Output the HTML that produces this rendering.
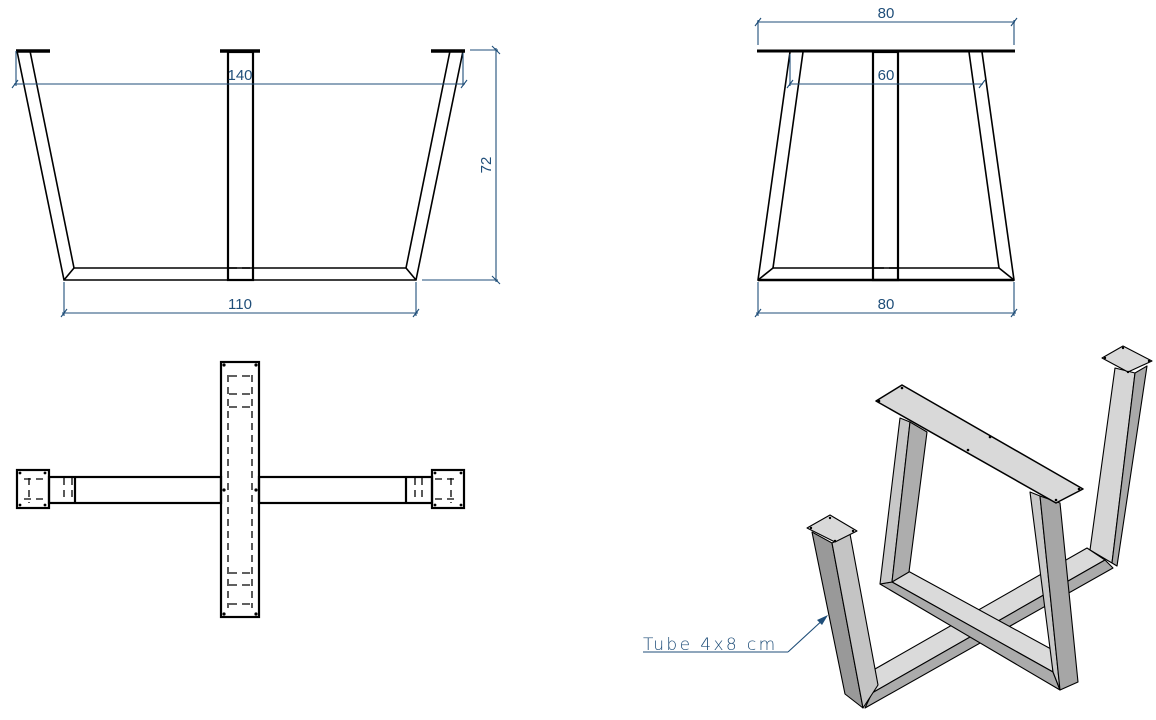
<!DOCTYPE html>
<html><head><meta charset="utf-8"><style>
html,body{margin:0;padding:0;background:#fff;}
svg{display:block;}
.k{stroke:#000;fill:none;stroke-width:2.2;}
.k1{stroke:#000;fill:none;stroke-width:1.6;}
.d{stroke:#1f4e79;fill:none;stroke-width:1.1;}
.t{font-family:"Liberation Sans Narrow","Liberation Sans",sans-serif;font-size:15px;fill:#1f4e79;}
.dash{stroke:#000;fill:none;stroke-width:1.3;stroke-dasharray:7,5;}
.f{stroke:#000;stroke-width:1.1;stroke-linejoin:round;}
</style></head><body>
<svg width="1156" height="720" viewBox="0 0 1156 720" xmlns="http://www.w3.org/2000/svg">
<!-- FRONT VIEW -->
<g>
<line x1="16" y1="51" x2="50" y2="51" stroke="#000" stroke-width="3.5"/>
<line x1="220" y1="51" x2="260" y2="51" stroke="#000" stroke-width="3.5"/>
<line x1="431" y1="51" x2="465" y2="51" stroke="#000" stroke-width="3.5"/>
<polyline class="k1" points="17,51 64,280 416,280 463,51"/>
<polyline class="k1" points="30,51 74,268 406,268 450,51"/>
<line class="k1" x1="64" y1="280" x2="74" y2="268"/>
<line class="k1" x1="416" y1="280" x2="406" y2="268"/>
<rect x="228" y="52" width="25" height="228" fill="#fff" class="k"/>
<line x1="229" y1="268" x2="252" y2="268" stroke="#000" stroke-width="1.4" stroke-dasharray="8,5"/>
<line class="d" x1="14" y1="84" x2="465" y2="84"/>
<line class="d" x1="16" y1="51" x2="16" y2="86"/>
<line class="d" x1="463" y1="53" x2="463" y2="86"/>
<line class="d" x1="12" y1="88" x2="18" y2="80"/><line class="d" x1="461" y1="88" x2="467" y2="80"/>
<text class="t" x="240" y="80" text-anchor="middle">140</text>
<line class="d" x1="470" y1="50" x2="498" y2="50"/>
<line class="d" x1="422" y1="280" x2="498" y2="280"/>
<line class="d" x1="496" y1="48" x2="496" y2="282"/>
<line class="d" x1="492" y1="46" x2="500" y2="54"/><line class="d" x1="492" y1="276" x2="500" y2="284"/>
<text class="t" x="0" y="0" text-anchor="middle" transform="translate(491,165) rotate(-90)">72</text>
<line class="d" x1="64" y1="282" x2="64" y2="316"/>
<line class="d" x1="416" y1="282" x2="416" y2="316"/>
<line class="d" x1="62" y1="313" x2="418" y2="313"/>
<line class="d" x1="61" y1="317" x2="67" y2="309"/><line class="d" x1="413" y1="317" x2="419" y2="309"/>
<text class="t" x="240" y="309" text-anchor="middle">110</text>
</g>
<!-- SIDE VIEW -->
<g>
<line x1="757" y1="51" x2="1015" y2="51" stroke="#000" stroke-width="3"/>
<polyline class="k1" points="790,52 758,280 1014,280 982,52"/>
<polyline class="k1" points="803,52 773,268 999,268 969,52"/>
<line class="k1" x1="758" y1="280" x2="773" y2="268"/>
<line class="k1" x1="1014" y1="280" x2="999" y2="268"/>
<line class="k1" x1="758" y1="280" x2="1014" y2="280" style="stroke-width:2.4"/>
<rect x="873" y="52" width="25" height="228" fill="#fff" class="k"/>
<line x1="874" y1="268" x2="897" y2="268" stroke="#000" stroke-width="1.4" stroke-dasharray="10,5"/>
<line class="d" x1="757" y1="22" x2="1015" y2="22"/>
<line class="d" x1="758" y1="20" x2="758" y2="45"/><line class="d" x1="1014" y1="20" x2="1014" y2="45"/>
<line class="d" x1="755" y1="26" x2="761" y2="18"/><line class="d" x1="1011" y1="26" x2="1017" y2="18"/>
<text class="t" x="886" y="18" text-anchor="middle">80</text>
<line class="d" x1="789" y1="84" x2="983" y2="84"/>
<line class="d" x1="790" y1="54" x2="790" y2="86"/>
<line class="d" x1="787" y1="88" x2="793" y2="80"/><line class="d" x1="979" y1="88" x2="985" y2="80"/>
<text class="t" x="886" y="80" text-anchor="middle">60</text>
<line class="d" x1="758" y1="282" x2="758" y2="316"/><line class="d" x1="1014" y1="282" x2="1014" y2="316"/>
<line class="d" x1="756" y1="313" x2="1016" y2="313"/>
<line class="d" x1="755" y1="317" x2="761" y2="309"/><line class="d" x1="1011" y1="317" x2="1017" y2="309"/>
<text class="t" x="886" y="309" text-anchor="middle">80</text>
</g>
<!-- TOP VIEW -->
<g>
<rect x="49" y="477" width="172" height="26" class="k" fill="#fff"/>
<rect x="259" y="477" width="173" height="26" class="k" fill="#fff"/>
<line class="k" x1="75" y1="477" x2="75" y2="503"/>
<line class="k" x1="406" y1="477" x2="406" y2="503"/>
<line class="dash" x1="64" y1="478" x2="64" y2="503"/><line class="dash" x1="72" y1="478" x2="72" y2="503"/>
<line class="dash" x1="415" y1="478" x2="415" y2="503"/><line class="dash" x1="422" y1="478" x2="422" y2="503"/>
<rect x="17" y="470" width="32" height="38" class="k" fill="#fff"/>
<rect x="432" y="470" width="32" height="38" class="k" fill="#fff"/>
<line class="dash" x1="29" y1="478" x2="29" y2="503"/><line class="dash" x1="24" y1="479" x2="46" y2="479" stroke-dasharray="6,4"/><line class="dash" x1="24" y1="499" x2="46" y2="499" stroke-dasharray="6,4"/>
<line class="dash" x1="451" y1="478" x2="451" y2="503"/><line class="dash" x1="435" y1="479" x2="457" y2="479" stroke-dasharray="6,4"/><line class="dash" x1="435" y1="499" x2="457" y2="499" stroke-dasharray="6,4"/>
<rect x="221" y="362" width="38" height="255" class="k" fill="#fff"/>
<line class="dash" x1="228" y1="375" x2="228" y2="608"/>
<line class="dash" x1="252" y1="375" x2="252" y2="608"/>
<g stroke="#000" stroke-width="1.3" stroke-dasharray="8,5">
<line x1="229" y1="376" x2="252" y2="376"/><line x1="229" y1="394" x2="252" y2="394"/><line x1="229" y1="407" x2="252" y2="407"/>
<line x1="229" y1="573" x2="252" y2="573"/><line x1="229" y1="585" x2="252" y2="585"/><line x1="229" y1="604" x2="252" y2="604"/>
</g>
<g fill="#000">
<circle cx="224" cy="365" r="1.6"/><circle cx="256" cy="365" r="1.6"/><circle cx="224" cy="614" r="1.6"/><circle cx="256" cy="614" r="1.6"/>
<circle cx="224" cy="490" r="1.6"/><circle cx="256" cy="490" r="1.6"/>
<circle cx="20" cy="473" r="1.4"/><circle cx="45" cy="473" r="1.4"/><circle cx="20" cy="505" r="1.4"/><circle cx="45" cy="505" r="1.4"/>
<circle cx="435" cy="473" r="1.4"/><circle cx="461" cy="473" r="1.4"/><circle cx="435" cy="505" r="1.4"/><circle cx="461" cy="505" r="1.4"/>
</g>
</g>
<!-- ISO VIEW -->
<g class="f">
<polygon points="1115,368 1135,373 1112,563 1090,550" fill="#d6d6d6" class="f"/>
<polygon points="1135,373 1147,366 1117,566 1112,563" fill="#a9a9a9" class="f"/>
<polygon points="1102,358 1123,346 1152,361 1128,372" fill="#d9d9d9" class="f"/>
<polygon points="868,673 1087,548 1105,560 872,693" fill="#dadada" class="f"/>
<polygon points="872,693 1105,560 1113,568 865,708" fill="#ababab" class="f"/>
<polygon points="892,582 908,571 1051,649 1053,672" fill="#dadada" class="f"/>
<polygon points="880,584 892,582 1053,672 1060,690" fill="#ababab" class="f"/>
<polygon points="900,418 910,422 892,582 880,584" fill="#c8c8c8" class="f"/>
<polygon points="910,422 927,432 909,572 892,582" fill="#adadad" class="f"/>
<polygon points="1030,492 1040,496 1060,690 1053,672" fill="#c8c8c8" class="f"/>
<polygon points="1040,496 1060,503 1078,682 1060,690" fill="#a6a6a6" class="f"/>
<polygon points="876,401 902,385 1083,489 1056,503" fill="#d9d9d9" stroke="#000" stroke-width="1.5"/>
<g fill="#000" stroke="none"><circle cx="879" cy="401" r="1.3"/><circle cx="902" cy="388" r="1.3"/><circle cx="1079" cy="489" r="1.3"/><circle cx="1056" cy="500" r="1.3"/><circle cx="990" cy="437" r="1.3"/><circle cx="968" cy="450" r="1.3"/></g>
<polygon points="812,532 832,543 863,708 845,694" fill="#999999" class="f"/>
<polygon points="832,543 850,534 878,685 863,708" fill="#c4c4c4" class="f"/>
<polygon points="807,528 830,515 857,531 835,542" fill="#d9d9d9" class="f"/>
<g fill="#000" stroke="none"><circle cx="811" cy="528" r="1.2"/><circle cx="830" cy="518" r="1.2"/><circle cx="853" cy="531" r="1.2"/><circle cx="835" cy="541" r="1.2"/>
<circle cx="1105" cy="358" r="1.2"/><circle cx="1123" cy="348" r="1.2"/><circle cx="1149" cy="361" r="1.2"/><circle cx="1128" cy="372" r="1.2"/></g>
</g>
<line class="d" x1="643" y1="652" x2="788" y2="652"/>
<line class="d" x1="788" y1="652" x2="826" y2="617"/>
<polygon points="828,615 817,620 822,625" fill="#1f4e79"/>
<text x="643" y="650" font-family="'DejaVu Sans','Liberation Sans',sans-serif" font-size="17" font-weight="200" letter-spacing="2.4" fill="#1f4e79">Tube 4x8 cm</text>
</svg>
</body></html>
